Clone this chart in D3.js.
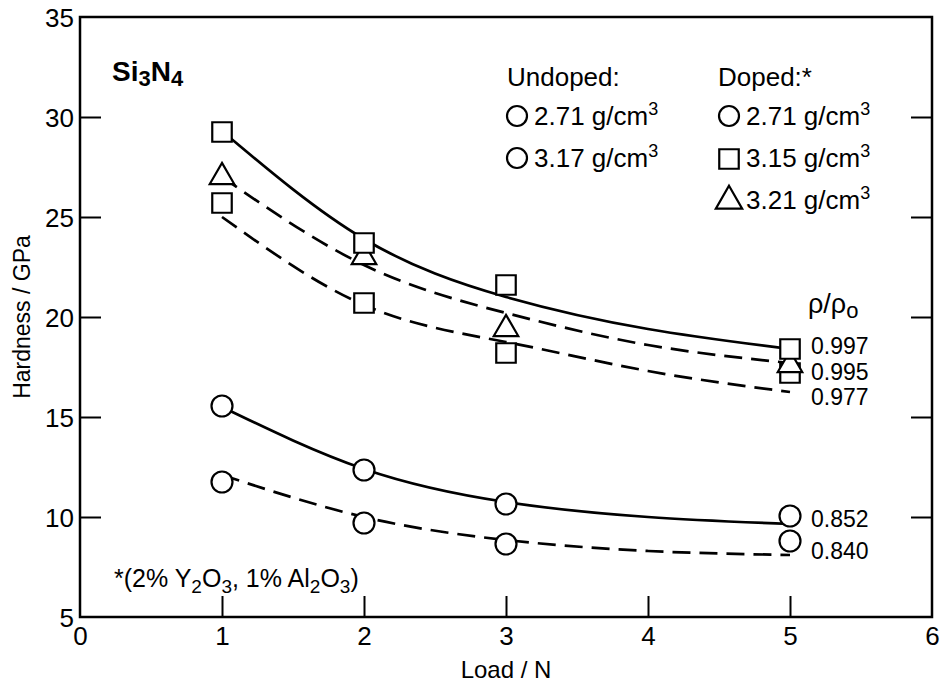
<!DOCTYPE html>
<html><head><meta charset="utf-8">
<script src="https://cdn.jsdelivr.net/npm/d3@7"></script>
<style>body{margin:0;background:#fff}text{font-family:"Liberation Sans",Arial,sans-serif;fill:#000}</style>
</head><body><svg id="c" width="948" height="687"></svg>
<script>
// Data
const loads = [1, 2, 3, 5];
const dopedSq997 = [29.25, 23.7, 21.6, 18.4];
const dopedTri995 = [27.0, 23.0, 19.4, 17.6];
const dopedSq977 = [25.7, 20.7, 18.2, 17.2];
const undoped852 = [15.55, 12.35, 10.65, 10.05];
const undoped840 = [11.75, 9.7, 8.65, 8.8];
const fitLoads = [1, 2, 3, 4, 5];
const fit997 = [29.3, 23.9, 21.0, 19.4, 18.4];
const fit995 = [27.0, 22.6, 20.2, 18.6, 17.7];
const fit977 = [25.0, 20.6, 18.75, 17.3, 16.25];
const fit852 = [15.5, 12.4, 10.75, 10.0, 9.65];
const fit840 = [12.1, 10.0, 8.85, 8.3, 8.1];
const xTicks = [0, 1, 2, 3, 4, 5, 6];
const yTicks = [5, 10, 15, 20, 25, 30, 35];
const ratioLabels = ["0.997", "0.995", "0.977", "0.852", "0.840"];
const ratioValues = [18.15, 16.85, 15.6, 9.5, 7.9];

const svg = d3.select("#c");
const L = 80, R = 932, T = 17, B = 617;
const x = d3.scaleLinear().domain([0, 6]).range([L, R]);
const y = d3.scaleLinear().domain([5, 35]).range([B, T]);

// axes with inward ticks
const ax = svg.append("g");
const xb = ax.append("g").attr("transform", `translate(0,${B})`)
  .call(d3.axisBottom(x).tickValues(xTicks).tickSizeInner(-21).tickSizeOuter(0).tickPadding(10).tickFormat(d3.format("d")));
const yl = ax.append("g").attr("transform", `translate(${L},0)`)
  .call(d3.axisLeft(y).tickValues(yTicks).tickSizeInner(-21).tickSizeOuter(0).tickPadding(6).tickFormat(d3.format("d")));
const yr = ax.append("g").attr("transform", `translate(${R},0)`)
  .call(d3.axisRight(y).tickValues(yTicks).tickSizeInner(-21).tickSizeOuter(0).tickFormat(""));
[xb, yl, yr].forEach(g => {
  g.select(".domain").remove();
  g.selectAll(".tick line").attr("stroke", "#000").attr("stroke-width", 2);
  g.selectAll(".tick text").attr("font-size", 26).attr("font-family", "Liberation Sans, Arial, sans-serif");
});
xb.selectAll(".tick").filter(d => d === 0 || d === 6).select("line").remove();
yl.selectAll(".tick").filter(d => d === 5 || d === 35).select("line").remove();
yr.selectAll(".tick").filter(d => d === 5 || d === 35).select("line").remove();
yl.selectAll(".tick text").attr("dy", "0.35em");
svg.append("rect").attr("x", L).attr("y", T).attr("width", R - L).attr("height", B - T)
  .attr("fill", "none").attr("stroke", "#000").attr("stroke-width", 2.5);

// fit lines
const line = d3.line().x(d => x(d[0])).y(d => y(d[1])).curve(d3.curveNatural);
const fits = [
  {v: fit997, dash: null}, {v: fit995, dash: "18,9"}, {v: fit977, dash: "18,9"},
  {v: fit852, dash: null}, {v: fit840, dash: "18,9"}
];
fits.forEach(f => {
  svg.append("path").datum(fitLoads.map((l, i) => [l, f.v[i]]))
    .attr("d", line).attr("fill", "none").attr("stroke", "#000").attr("stroke-width", 2.7)
    .attr("stroke-dasharray", f.dash);
});

// markers
const sq = d3.symbol().type(d3.symbolSquare).size(380);
const tri = d3.symbol().type(d3.symbolTriangle).size(260);
const series = [
  {v: dopedSq977, s: "square"}, {v: dopedTri995, s: "triangle"}, {v: dopedSq997, s: "square"},
  {v: undoped852, s: "circle"}, {v: undoped840, s: "circle"}
];
series.forEach(se => {
  loads.forEach((l, i) => {
    const cx = x(l), cy = y(se.v[i]);
    let el;
    if (se.s === "circle") el = svg.append("circle").attr("cx", cx).attr("cy", cy).attr("r", 10.5);
    else el = svg.append("path").attr("d", se.s === "square" ? sq() : tri()).attr("transform", `translate(${cx},${cy})`);
    el.attr("fill", "#fff").attr("stroke", "#000").attr("stroke-width", 2.2);
  });
});

// text
const fs = 26;
svg.append("text").attr("x", 506).attr("y", 678).attr("text-anchor", "middle").attr("font-size", 24).text("Load / N");
svg.append("text").attr("transform", "translate(30,317) rotate(-90)").attr("text-anchor", "middle").attr("font-size", 23).text("Hardness / GPa");

const si = svg.append("text").attr("x", 112).attr("y", 81).attr("font-size", 28).attr("font-weight", "bold");
si.append("tspan").text("Si");
si.append("tspan").attr("font-size", 22).attr("dy", 5).text("3");
si.append("tspan").attr("dy", -5).text("N");
si.append("tspan").attr("font-size", 22).attr("dy", 5).text("4");

svg.append("text").attr("x", 507).attr("y", 86).attr("font-size", fs).text("Undoped:");
svg.append("text").attr("x", 718).attr("y", 86).attr("font-size", fs).text("Doped:*");
const legendRows = [
  {x: 517, y: 125, s: "circle", t: "2.71"},
  {x: 517, y: 167, s: "circle", t: "3.17"},
  {x: 729, y: 125, s: "circle", t: "2.71"},
  {x: 729, y: 167, s: "square", t: "3.15"},
  {x: 729, y: 209, s: "triangle", t: "3.21"}
];
legendRows.forEach(r => {
  const cy = r.y - 9;
  let el;
  if (r.s === "circle") el = svg.append("circle").attr("cx", r.x).attr("cy", cy).attr("r", 10);
  else el = svg.append("path").attr("d", r.s === "square" ? d3.symbol().type(d3.symbolSquare).size(380)() : d3.symbol().type(d3.symbolTriangle).size(300)())
    .attr("transform", `translate(${r.x},${cy + 1})`);
  el.attr("fill", "#fff").attr("stroke", "#000").attr("stroke-width", 2.2);
  const t = svg.append("text").attr("x", r.x + 17).attr("y", r.y).attr("font-size", fs);
  t.append("tspan").text(r.t + " g/cm");
  t.append("tspan").attr("font-size", 18).attr("dy", -10).text("3");
});

const rho = svg.append("text").attr("x", 808).attr("y", 313).attr("font-size", 27);
rho.append("tspan").text("ρ/ρ");
rho.append("tspan").attr("font-size", 22).attr("dy", 5).text("o");
ratioLabels.forEach((t, i) => {
  svg.append("text").attr("x", 811).attr("y", y(ratioValues[i])).attr("font-size", 23).text(t);
});

const fn = svg.append("text").attr("x", 114).attr("y", 587).attr("font-size", 25);
const subFs = 19;
fn.append("tspan").text("*(2% Y");
fn.append("tspan").attr("font-size", subFs).attr("dy", 6).text("2");
fn.append("tspan").attr("dy", -6).text("O");
fn.append("tspan").attr("font-size", subFs).attr("dy", 6).text("3");
fn.append("tspan").attr("dy", -6).text(", 1% Al");
fn.append("tspan").attr("font-size", subFs).attr("dy", 6).text("2");
fn.append("tspan").attr("dy", -6).text("O");
fn.append("tspan").attr("font-size", subFs).attr("dy", 6).text("3");
fn.append("tspan").attr("dy", -6).text(")");
</script></body></html>
